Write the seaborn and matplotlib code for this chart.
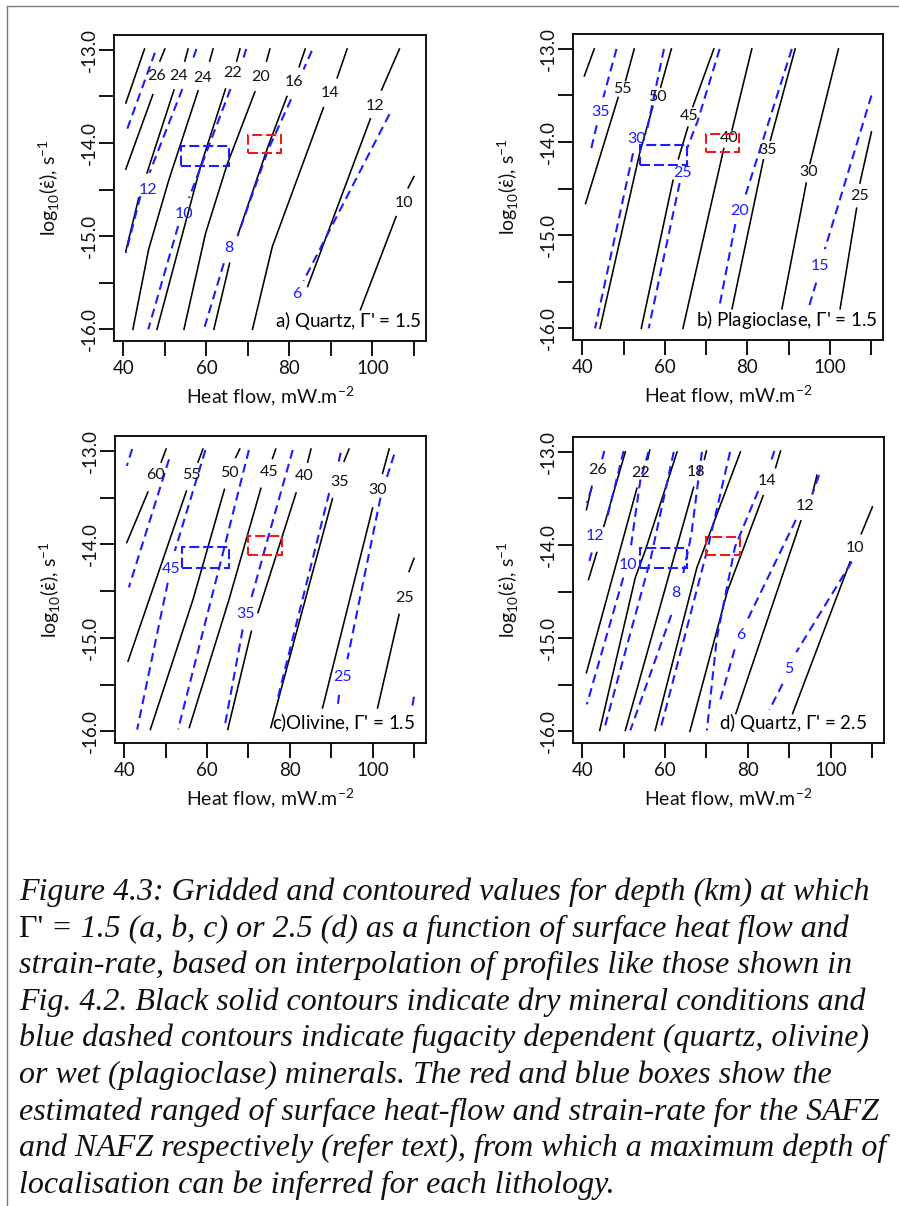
import matplotlib
matplotlib.use("Agg")
import matplotlib.pyplot as plt
from matplotlib.patches import Rectangle
from matplotlib.lines import Line2D
import pandas as pd
import seaborn as sns

plt.rcParams.update({
    "font.family": ["Lato", "DejaVu Sans"],
    "mathtext.fontset": "custom",
    "mathtext.rm": "Lato",
    "mathtext.it": "DejaVu Sans:italic",
    "mathtext.bf": "Lato:bold",
    "mathtext.fallback": "stixsans",
})

# ---------------------------------------------------------------- axes
heat_flow_ticks = [40, 50, 60, 70, 80, 90, 100, 110]
heat_flow_ticklabels = ["40", "", "60", "", "80", "", "100", ""]
strain_ticks = [-16.0, -15.5, -15.0, -14.5, -14.0, -13.5, -13.0]
strain_ticklabels = ["-16.0", "", "-15.0", "", "-14.0", "", "-13.0"]

# ---------------------------------------------------------------- study areas
# (heat flow in mW/m2, log10 strain rate in 1/s)
safz_heat_flow = [70.0, 78.0]
safz_strain_rate = [-14.11, -13.91]
nafz_heat_flow = [54.0, 65.4]
nafz_strain_rate = [-14.25, -14.03]

# ---------------------------------------------------------------- contour traces
# each entry: (depth km, heat flow values, log10 strain-rate values)

# a) quartz, Gamma' = 1.5
quartz15_dry = [
    (28, [45.1, 40.6], [-12.99, -13.57]),
    (26, [50.0, 48.8], [-12.99, -13.12]),
    (26, [47.1, 40.6], [-13.48, -14.28]),
    (24, [55.6, 54.8], [-12.99, -13.12]),
    (24, [52.2, 45.7], [-13.43, -14.32]),
    (24, [43.7, 40.6], [-14.59, -15.16]),
    (24, [61.6, 60.8], [-12.99, -13.12]),
    (24, [58.0, 51.0, 46.1, 42.3], [-13.44, -14.39, -15.14, -16.0]),
    (22, [68.1, 67.3], [-12.99, -13.12]),
    (22, [64.6, 58.6, 48.1], [-13.42, -14.25, -16.0]),
    (20, [75.3, 74.5], [-12.99, -13.12]),
    (20, [71.7, 65.0, 59.8, 54.6], [-13.45, -14.23, -14.97, -16.0]),
    (16, [83.8, 82.35], [-12.99, -13.18]),
    (16, [79.4, 74.9, 67.7], [-13.50, -14.03, -14.97]),
    (16, [65.6, 61.8], [-15.29, -16.0]),
    (14, [93.9, 91.5], [-12.99, -13.30]),
    (14, [88.2, 75.9, 71.1], [-13.62, -15.11, -16.0]),
    (12, [106.5, 102.2], [-12.99, -13.43]),
    (12, [99.5, 84.4], [-13.74, -15.54]),
    (10, [110.0, 108.6], [-14.36, -14.48]),
    (10, [105.7, 97.1], [-14.79, -15.79]),
]
quartz15_dry_labels = [(26, 48.0, -13.28), (24, 53.4, -13.28), (24, 59.2, -13.30),
                       (22, 66.4, -13.25), (20, 73.1, -13.29), (16, 81.2, -13.34),
                       (14, 89.8, -13.46), (12, 100.5, -13.60), (10, 107.6, -14.64)]
quartz15_wet = [
    (14, [47.6, 40.6], [-13.03, -13.89]),
    (12, [57.6, 56.6], [-12.99, -13.12]),
    (12, [54.2, 46.3], [-13.42, -14.32]),
    (12, [44.1, 40.6], [-14.57, -15.18]),
    (10, [69.6, 68.7], [-12.99, -13.12]),
    (10, [65.8, 60.0, 55.8], [-13.42, -14.10, -14.59]),
    (10, [53.2, 46.0], [-14.89, -16.0]),
    (8, [85.4, 83.4], [-13.01, -13.21]),
    (8, [80.4, 74.9, 67.5], [-13.53, -14.07, -15.0]),
    (8, [64.2, 59.4], [-15.29, -16.0]),
    (6, [104.1, 83.4], [-13.69, -15.48]),
]
quartz15_wet_labels = [(12, 46.0, -14.50), (10, 54.7, -14.76), (8, 65.4, -15.13), (6, 81.7, -15.62)]

# b) plagioclase, Gamma' = 1.5
plag15_dry = [
    (60, [42.9, 40.5], [-13.0, -13.29]),
    (55, [52.6, 50.5], [-13.0, -13.34]),
    (55, [48.7, 40.8], [-13.52, -14.66]),
    (50, [61.6, 59.0], [-13.0, -13.41]),
    (50, [57.1, 53.9, 44.3], [-13.62, -14.12, -16.0]),
    (45, [71.9, 66.8], [-13.0, -13.62]),
    (45, [65.6, 63.3], [-13.84, -14.18]),
    (45, [62.0, 54.3], [-14.41, -16.0]),
    (40, [81.1, 76.3], [-13.0, -13.87]),
    (40, [74.3, 64.4], [-14.07, -16.0]),
    (35, [91.6, 85.6], [-13.0, -13.98]),
    (35, [83.9, 76.3], [-14.19, -15.79]),
    (30, [102.1, 95.2], [-13.0, -14.23]),
    (30, [94.3, 88.4], [-14.44, -15.79]),
    (25, [110.1, 107.3], [-13.89, -14.44]),
    (25, [106.5, 102.5], [-14.71, -15.79]),
]
plag15_dry_labels = [(55, 49.7, -13.43), (50, 58.2, -13.52), (45, 66.0, -13.72),
                     (40, 75.6, -13.96), (35, 84.8, -14.09), (30, 94.9, -14.32),
                     (25, 107.2, -14.58)]
plag15_wet = [
    (35, [48.3, 45.1], [-13.0, -13.52]),
    (35, [43.5, 41.9], [-13.82, -14.12]),
    (30, [59.8, 55.5], [-13.0, -13.91]),
    (30, [52.3, 43.1], [-14.12, -16.0]),
    (25, [73.3, 68.0, 65.4], [-13.0, -13.77, -14.07]),
    (25, [63.6, 56.1], [-14.44, -16.0]),
    (20, [90.8, 79.5], [-13.0, -14.58]),
    (20, [77.1, 73.3], [-14.88, -15.75]),
    (15, [110.1, 98.8], [-13.50, -15.15]),
    (15, [96.7, 94.8], [-15.51, -15.79]),
]
plag15_wet_labels = [(35, 44.3, -13.68), (30, 53.2, -13.97), (25, 64.4, -14.33),
                     (20, 78.2, -14.74), (15, 97.6, -15.33)]

# c) olivine, Gamma' = 1.5
olivine15_dry = [
    (60, [50.1, 48.9], [-12.98, -13.12]),
    (60, [45.7, 40.6], [-13.44, -13.98]),
    (55, [59.0, 57.8], [-12.98, -13.12]),
    (55, [55.0, 40.9], [-13.43, -15.25]),
    (50, [67.9, 66.9], [-12.98, -13.07]),
    (50, [64.2, 56.6, 46.3], [-13.41, -14.59, -15.98]),
    (45, [76.6, 75.8], [-12.98, -13.08]),
    (45, [73.0, 65.3, 55.7], [-13.40, -14.59, -15.96]),
    (40, [85.1, 84.3], [-12.98, -13.12]),
    (40, [81.5, 72.3], [-13.45, -14.73]),
    (40, [70.7, 65.0], [-14.93, -15.98]),
    (35, [94.3, 93.1], [-12.98, -13.11]),
    (35, [90.3, 75.4], [-13.51, -15.96]),
    (30, [104.0, 102.4], [-12.98, -13.24]),
    (30, [100.0, 87.9], [-13.61, -15.75]),
    (25, [110.0, 108.8], [-14.15, -14.29]),
    (25, [106.4, 101.2], [-14.75, -15.75]),
]
olivine15_dry_labels = [(60, 47.5, -13.26), (55, 56.2, -13.26), (50, 65.3, -13.24),
                        (45, 75.0, -13.22), (40, 83.5, -13.27), (35, 91.9, -13.33),
                        (30, 101.2, -13.42), (25, 107.8, -14.57)]
olivine15_wet = [
    (55, [41.9, 40.6], [-12.98, -13.16]),
    (50, [50.8, 41.1], [-13.09, -14.46]),
    (45, [59.6, 52.2], [-12.99, -14.07]),
    (45, [50.5, 43.1], [-14.41, -15.98]),
    (40, [70.1, 63.5, 53.0], [-12.99, -14.15, -15.98]),
    (35, [80.7, 74.6, 70.6], [-12.99, -13.95, -14.59]),
    (35, [68.6, 64.2], [-14.91, -15.96]),
    (30, [92.3, 91.6], [-13.02, -13.15]),
    (30, [89.5, 77.0], [-13.45, -15.66]),
    (25, [105.2, 103.3], [-13.04, -13.30]),
    (25, [101.9, 93.9], [-13.50, -15.23]),
    (25, [91.9, 91.5], [-15.61, -15.75]),
    (20, [110.0, 109.6], [-15.63, -15.73]),
]
olivine15_wet_labels = [(45, 51.3, -14.26), (35, 69.2, -14.75), (25, 92.7, -15.42)]

# d) quartz, Gamma' = 2.5
quartz25_dry = [
    (26, [42.3, 41.0], [-13.37, -13.62]),
    (24, [50.4, 45.2], [-13.0, -13.80]),
    (24, [43.5, 41.5], [-14.08, -14.37]),
    (22, [56.3, 55.8], [-12.98, -13.08]),
    (22, [53.2, 41.0], [-13.39, -15.37]),
    (20, [62.9, 55.2, 52.8, 44.2], [-13.0, -14.06, -14.35, -15.99]),
    (18, [70.0, 69.5], [-12.99, -13.08]),
    (18, [66.9, 61.9, 50.4], [-13.38, -14.17, -15.99]),
    (16, [78.2, 67.7, 57.6], [-13.0, -14.24, -15.99]),
    (14, [87.9, 86.7], [-12.99, -13.17]),
    (14, [83.7, 75.1, 66.0], [-13.47, -14.49, -16.0]),
    (12, [96.7, 95.6], [-13.25, -13.45]),
    (12, [92.8, 77.1], [-13.74, -15.81]),
    (10, [110.1, 107.4], [-13.59, -13.88]),
    (10, [104.7, 90.8], [-14.18, -15.81]),
]
quartz25_dry_labels = [(26, 43.6, -13.19), (22, 54.0, -13.23), (18, 67.5, -13.22),
                       (14, 84.7, -13.31), (12, 93.9, -13.58), (10, 106.0, -14.03)]
quartz25_wet = [
    (13, [45.3, 44.8], [-12.99, -13.08]),
    (13, [42.3, 41.1], [-13.38, -13.55]),
    (12, [50.0, 45.8], [-12.99, -13.74]),
    (12, [42.3, 41.7], [-14.08, -14.17]),
    (10, [56.0, 54.0, 51.6], [-13.0, -13.31, -14.06]),
    (10, [49.9, 41.1], [-14.35, -15.71]),
    (9, [62.1, 56.5, 45.2], [-13.0, -14.15, -15.99]),
    (8, [68.9, 66.3, 64.4], [-13.0, -13.90, -14.30]),
    (8, [61.5, 51.6], [-14.75, -15.99]),
    (7, [75.7, 70.5, 58.8], [-13.0, -14.0, -15.99]),
    (6, [86.4, 85.6], [-12.99, -13.10]),
    (6, [82.5, 76.9, 72.5, 70.1], [-13.42, -14.02, -15.0, -15.99]),
    (6, [97.2, 95.6], [-13.25, -13.45]),
    (6, [91.6, 79.5], [-13.73, -14.84]),
    (6, [76.8, 73.3], [-15.12, -15.67]),
    (5, [105.1, 91.7], [-14.18, -15.15]),
    (5, [88.4, 85.2], [-15.49, -15.77]),
]
quartz25_wet_labels = [(12, 43.1, -13.90), (10, 51.0, -14.21), (8, 62.7, -14.51),
                       (6, 78.2, -14.97), (5, 90.0, -15.33)]

caption_lines = [
    "Figure 4.3: Gridded and contoured values for depth (km) at which",
    "= 1.5 (a, b, c) or 2.5 (d) as a function of surface heat flow and",
    "strain-rate, based on interpolation of profiles like those shown in",
    "Fig. 4.2. Black solid contours indicate dry mineral conditions and",
    "blue dashed contours indicate fugacity dependent (quartz, olivine)",
    "or wet (plagioclase) minerals. The red and blue boxes show the",
    "estimated ranged of surface heat-flow and strain-rate for the SAFZ",
    "and NAFZ respectively (refer text), from which a maximum depth of",
    "localisation can be inferred for each lithology.",
]

# ---------------------------------------------------------------- styling
BLUE = "#1c1cff"
RED = "#f01818"
W, H = 899, 1206

fig = plt.figure(figsize=(W / 100, H / 100), dpi=100)
fig.patch.set_facecolor("white")


def add_axes_px(left, top, right, bottom):
    return fig.add_axes([left / W, 1 - bottom / H, (right - left) / W, (bottom - top) / H])


def traces_frame(traces):
    rows = []
    for i, (level, xs, ys) in enumerate(traces):
        for x, y in zip(xs, ys):
            rows.append({"segment": i, "depth": level, "heat_flow": x, "strain_rate": y})
    return pd.DataFrame(rows)


def draw_panel(ax, dry, dry_labels, wet, wet_labels, title, title_x):
    sns.lineplot(data=traces_frame(dry), x="heat_flow", y="strain_rate", units="segment",
                 estimator=None, sort=False, color="black", linewidth=1.15,
                 legend=False, ax=ax)
    sns.lineplot(data=traces_frame(wet), x="heat_flow", y="strain_rate", units="segment",
                 estimator=None, sort=False, color=BLUE, linewidth=1.5,
                 linestyle=(0, (4.3, 2.6)), legend=False, ax=ax)
    for level, x, y in dry_labels:
        ax.text(x, y, f"{level:g}", ha="center", va="center", fontsize=11.5, color="#111111")
    for level, x, y in wet_labels:
        ax.text(x, y, f"{level:g}", ha="center", va="center", fontsize=11.5, color=BLUE)

    for hf, sr, col in ((safz_heat_flow, safz_strain_rate, RED),
                        (nafz_heat_flow, nafz_strain_rate, BLUE)):
        ax.add_patch(Rectangle((hf[0], sr[0]), hf[1] - hf[0], sr[1] - sr[0],
                               fill=False, edgecolor=col, linewidth=1.5,
                               linestyle=(0, (4.8, 1.9)), zorder=4))

    ax.text(title_x, 0.045, title, transform=ax.transAxes, ha="right", va="baseline",
            fontsize=13.5)

    ax.set_xlim(37.75, 112.9)
    ax.set_ylim(-16.125, -12.84)
    ax.set_xticks(heat_flow_ticks, heat_flow_ticklabels)
    ax.set_yticks(strain_ticks, strain_ticklabels)
    ax.tick_params(axis="both", direction="out", length=11, width=1.3,
                   color="black", labelsize=13.5, labelcolor="#111111")
    ax.tick_params(axis="x", pad=3)
    ax.tick_params(axis="y", pad=0.5, labelrotation=90)
    for lab in ax.get_yticklabels():
        lab.set_verticalalignment("center")
    for sp in ax.spines.values():
        sp.set_linewidth(1.3)
        sp.set_color("black")
    ax.set_xlabel("Heat flow, mW.m$^{-2}$", fontsize=14, labelpad=5, color="#111111")
    ax.set_ylabel(r"log$_{10}$($\dot{\mathrm{\varepsilon}}$), s$^{-1}$", fontsize=14,
                  labelpad=14, color="#111111")
    ax.set_facecolor("white")


panels = [
    ((114, 35, 426, 341), quartz15_dry, quartz15_dry_labels, quartz15_wet, quartz15_wet_labels,
     r"a) Quartz, $\mathit{\Gamma}$' = 1.5", 0.987),
    ((573, 34, 883, 340), plag15_dry, plag15_dry_labels, plag15_wet, plag15_wet_labels,
     r"b) Plagioclase, $\mathit{\Gamma}$' = 1.5", 0.984),
    ((115, 436, 426, 743), olivine15_dry, olivine15_dry_labels, olivine15_wet, olivine15_wet_labels,
     r"c)Olivine, $\mathit{\Gamma}$' = 1.5", 0.965),
    ((573, 437, 884, 743), quartz25_dry, quartz25_dry_labels, quartz25_wet, quartz25_wet_labels,
     r"d) Quartz, $\mathit{\Gamma}$' = 2.5", 0.945),
]
for box, dry, dl, wet, wl, title, tx in panels:
    ax = add_axes_px(*box)
    draw_panel(ax, dry, dl, wet, wl, title, tx)

# page frame
fig.add_artist(Line2D([6.5 / W, 6.5 / W], [1 - 5.5 / H, 0], transform=fig.transFigure,
                      color="#7a7a7a", linewidth=1.0))
fig.add_artist(Line2D([6.5 / W, 1], [1 - 5.5 / H, 1 - 5.5 / H], transform=fig.transFigure,
                      color="#7a7a7a", linewidth=1.0))

# caption
cap_kw = dict(fontsize=23, family="Liberation Serif", va="baseline", ha="left", color="#111111")
x0, base0, step = 19, 900, 36.6
renderer = fig.canvas.get_renderer()
for i, line in enumerate(caption_lines):
    y = 1 - (base0 + i * step) / H
    if i == 1:
        g = fig.text(x0 / W, y, "\u0393' ", style="normal", **cap_kw)
        ext = g.get_window_extent(renderer)
        fig.text(ext.x1 / W, y, line, style="italic", **cap_kw)
    else:
        fig.text(x0 / W, y, line, style="italic", **cap_kw)

fig.savefig("out.png", dpi=100, facecolor="white")
